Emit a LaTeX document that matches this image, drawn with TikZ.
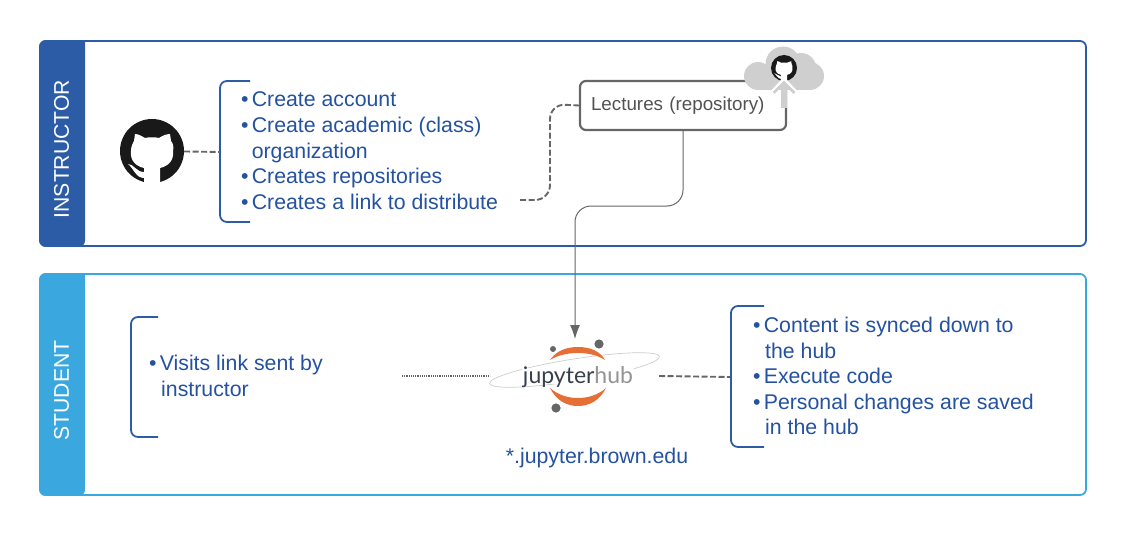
\documentclass[tikz,border=0pt]{standalone}
\usepackage{fontspec}
\setmainfont{Liberation Sans}
\newfontfamily\hubfont{Lato}
\usetikzlibrary{arrows.meta,calc}
\definecolor{instrblue}{HTML}{2D5CA6}
\definecolor{studblue}{HTML}{3AA7DE}
\definecolor{listblue}{HTML}{2451A0}
\definecolor{linegray}{HTML}{666666}
\definecolor{cloudgray}{HTML}{CFCFCF}
\definecolor{huborange}{HTML}{E66F36}
\definecolor{hubdark}{HTML}{36414D}
\tikzset{%
  panel/.style     = {draw, line width=1.8pt, rectangle, rounded corners=6pt,
    minimum width=1046pt, inner sep=0pt}, % Swimlane
  lanetext/.style  = {text=white, rotate=90, font=\fontsize{21.2}{24}\selectfont},
  listtext/.style  = {text=listblue, align=left, anchor=north west, inner sep=0pt,
    font=\fontsize{21.3}{25.6}\selectfont},
  brace/.style     = {line width=1.8pt, rounded corners=7pt},
  repobox/.style   = {draw=linegray, line width=2.2pt, rounded corners=6pt, minimum height=49pt,
    text width=184pt, inner xsep=11pt, align=left, text=black!68,
    font=\fontsize{18.8}{22}\selectfont},
  dashlink/.style  = {draw=linegray, line width=1.9pt, dash pattern=on 6pt off 2.5pt},
  dotlink/.style   = {draw=linegray, line width=1.2pt, dash pattern=on 1.1pt off 1.1pt},
  ghcircle/.style  = {circle, fill=black!90, minimum size=64pt, inner sep=0pt},
  octocat/.pic     = {
    \fill[white] (-8,32) -- (-8,17) .. controls (-17,15) and (-22,9) .. (-21,0)
      .. controls (-21,-5) and (-19,-8) .. (-18,-10) -- (-17,-17) .. controls (-13,-17) and (-9,-14) .. (-7,-13)
      .. controls (-3,-14) and (3,-14) .. (7,-13) .. controls (10,-15) and (14,-17) .. (18,-17)
      -- (19,-10) .. controls (21,-8) and (22,-4) .. (21,0)
      .. controls (22,9) and (17,15) .. (8,17) -- (8,32) -- cycle;
    \fill[white] (-24,13) .. controls (-18,13) and (-16,21) .. (-8,21) -- (-8,27)
      .. controls (-16,27) and (-18,18) .. (-24,13) -- cycle;
  }
}
\newcommand{\itm}{\makebox[10.6pt][l]{•}}
\begin{document}
\begin{tikzpicture}[x=1pt, y=-1pt]
  \useasboundingbox (0,0) rectangle (1126,535);
  \node[panel, draw=instrblue, minimum height=205pt] (instructor) at (563,143.5) {};
  \node[panel, draw=studblue, minimum height=221pt] (student) at (563,384.5) {};
  \fill[instrblue, rounded corners=6pt] (85,40.2) -| (39.2,246.8) -- (85,246.8) [sharp corners] -- cycle;
  \fill[studblue, rounded corners=6pt] (85,273.2) -| (39.2,495.8) -- (85,495.8) [sharp corners] -- cycle;
  \node[lanetext] (instrlabel) at (61.5,149) {INSTRUCTOR};
  \node[lanetext] (studlabel) at (61.5,390.5) {STUDENT};

  % Instructor lane
  \node[ghcircle] (github) at (152,151) {};
  \pic at (152,151) {octocat};
  \coordinate (bracea) at (220,152);
  \draw[brace, instrblue] (250,81) -| (bracea) |- (250,222);
  \node[listtext] (steps) at (241,91.8) {\itm Create account\\\itm Create academic (class)\\
    \hspace{10.6pt}organization\\\itm Creates repositories\\\itm Creates a link to distribute};
  \draw[dashlink] (github) -- (bracea);
  \node[repobox] (lectures) at (683,105.5) {Lectures (repository)};
  \coordinate (linkend) at (520,200);
  \draw[dashlink, rounded corners=15pt] (linkend) -| (550,104) -- (lectures.west);

  % Cloud with the upload arrow
  \fill[cloudgray] (758,76) circle (14);
  \fill[cloudgray] (783,64) circle (17.5);
  \fill[cloudgray] (801,68) circle (15);
  \fill[cloudgray] (810,76) circle (14);
  \fill[cloudgray] (758,72) rectangle (810,90);
  \node[ghcircle, minimum size=26pt] (ghsmall) at (784,68) {};
  \pic[scale=0.4] at (784,68) {octocat};
  \draw[white, line width=4.2pt] (773.5,91) -- (784,80) -- (794.5,91);
  \draw[cloudgray, line width=2.5pt] (773.5,93) -- (784,82.5) -- (794.5,93);
  \draw[cloudgray, line width=5.4pt] (784,84) -- (784,108);

  % Jupyterhub logo
  \draw[black!20, line width=0.7pt, rotate around={9:(574.5,370)}] (574.5,370) ellipse (86 and 11);
  \node[fill=white, inner sep=0pt, minimum width=112pt, minimum height=16pt] (hubmask) at (578,376) {};
  \node[inner sep=0pt, anchor=base, font=\hubfont\fontsize{23}{26}\selectfont] (hub) at (578,383)
    {\textcolor{hubdark}{jupyter}\textcolor{black!42}{hub}};
  \fill[huborange] (550,360) .. controls (556,351) and (566,347) .. (578,347)
    .. controls (590,347) and (600,351) .. (605,360)
    .. controls (597,355) and (588,353) .. (578,353) .. controls (568,353) and (558,355) .. (550,360) -- cycle;
  \fill[huborange] (550,388) .. controls (556,400) and (566,406) .. (578,406)
    .. controls (590,406) and (600,400) .. (606,388)
    .. controls (598,395) and (588,398) .. (578,398) .. controls (568,398) and (558,395) .. (550,388) -- cycle;
  \fill[linegray] (599,344) circle (4.6);
  \fill[linegray] (553,349) circle (3);
  \fill[linegray] (556,408) circle (4.6);
  \coordinate (hubtop) at (575,339);
  \draw[linegray, line width=1pt, rounded corners=16pt, -{Latex[length=14pt,width=10pt]}]
    (lectures.south) |- (575,206) -- (hubtop);
  \node[text=listblue, inner sep=0pt, font=\fontsize{21.3}{24}\selectfont] (domain) at (597,457.5) {*.jupyter.brown.edu};

  % Student lane
  \coordinate (braceb) at (131,377);
  \draw[brace, instrblue] (158,317) -| (braceb) |- (158,437);
  \node[listtext] (visits) at (149,354.8) {\itm Visits link sent by\\\hspace{12pt}instructor};
  \coordinate (dotstart) at (402,376);
  \coordinate (dotend) at (490,376);
  \draw[dotlink] (dotstart) -- (dotend);
  \coordinate (bracec) at (731,377);
  \coordinate (hubright) at (659,376);
  \draw[dashlink] (hubright) -- (bracec);
  \draw[brace, instrblue] (764,306) -| (bracec) |- (764,447);
  \node[listtext] (effects) at (753,316.8) {\itm Content is synced down to\\\hspace{12pt}the hub\\
    \itm Execute code\\\itm Personal changes are saved\\\hspace{12pt}in the hub};
\end{tikzpicture}
\end{document}
